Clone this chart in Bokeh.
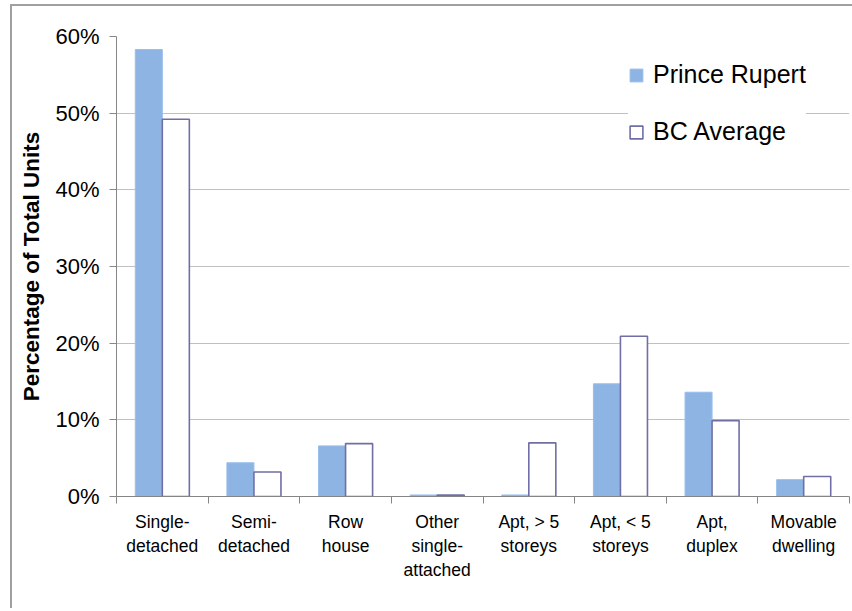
from bokeh.plotting import figure
from bokeh.layouts import column
from bokeh.models import (ColumnDataSource, Range1d, LinearAxis, FixedTicker,
                          NumeralTickFormatter, Legend, LegendItem)
from bokeh.transform import dodge
from bokeh.embed import file_html
from bokeh.resources import INLINE

# Dwelling types (multi-line labels)
categories = ["Single-\ndetached", "Semi-\ndetached", "Row\nhouse",
              "Other\nsingle-\nattached", "Apt, > 5\nstoreys", "Apt, < 5\nstoreys",
              "Apt,\nduplex", "Movable\ndwelling"]
# Share of total private dwellings
prince_rupert = [0.583, 0.044, 0.066, 0.002, 0.002, 0.147, 0.136, 0.022]
bc_average = [0.492, 0.032, 0.069, 0.002, 0.070, 0.209, 0.099, 0.026]
y_ticks = [0.0, 0.1, 0.2, 0.3, 0.4, 0.5, 0.6]

FONT = "Liberation Sans"
AXIS_GREY = "#868686"
FRAME_GREY = "#A0A0A0"

n = len(categories)
centers = [i + 0.5 for i in range(n)]
src = ColumnDataSource(dict(x=centers, pr=prince_rupert, bc=bc_average))

p = figure(width=840, height=602, output_backend="svg", toolbar_location=None,
           x_range=Range1d(0, n), y_range=Range1d(0, 0.6),
           x_axis_location="below", y_axis_location="left",
           min_border_left=104, min_border_right=3, min_border_top=30,
           min_border_bottom=112)
p.outline_line_color = None
p.background_fill_color = "white"
p.border_fill_color = "white"

bar_w = 0.295
r_pr = p.vbar(x=dodge("x", -bar_w / 2), top="pr", width=bar_w,
              source=src, fill_color="#8EB4E3", line_color="#97BEEC", line_width=1)
r_bc = p.vbar(x=dodge("x", bar_w / 2), top="bc", width=bar_w,
              source=src, fill_color="white", line_color="#6F6FA6", line_width=1.6)

# y axis
ya = p.yaxis[0]
ya.ticker = FixedTicker(ticks=y_ticks)
ya.formatter = NumeralTickFormatter(format="0%")
ya.axis_line_color = AXIS_GREY
ya.major_tick_line_color = AXIS_GREY
ya.major_tick_out = 7
ya.major_tick_in = 0
ya.minor_tick_line_color = None
ya.major_label_text_font = FONT
ya.major_label_text_font_size = "22px"
ya.major_label_text_color = "black"
ya.major_label_standoff = 10
ya.axis_label = "Percentage of Total Units"
ya.axis_label_text_font = FONT
ya.axis_label_text_font_style = "bold"
ya.axis_label_text_font_size = "22.5px"
ya.axis_label_text_color = "black"
ya.axis_label_standoff = 8

p.ygrid.ticker = FixedTicker(ticks=y_ticks)
p.ygrid.grid_line_color = "#C0C0C0"
p.xgrid.grid_line_color = None

# x axis: tick marks on category boundaries, no labels
xa = p.xaxis[0]
xa.ticker = FixedTicker(ticks=list(range(n + 1)))
xa.axis_line_color = AXIS_GREY
xa.major_tick_line_color = AXIS_GREY
xa.major_tick_out = 7
xa.major_tick_in = 0
xa.minor_tick_line_color = None
xa.major_label_text_font_size = "1px"
xa.major_label_text_alpha = 0
xa.major_label_standoff = 0

# second x axis carrying the category names at bar-group centres
cat_axis = LinearAxis(ticker=FixedTicker(ticks=centers),
                      major_label_overrides={c: lab for c, lab in zip(centers, categories)})
cat_axis.axis_line_color = None
cat_axis.major_tick_line_color = None
cat_axis.minor_tick_line_color = None
cat_axis.major_tick_out = 0
cat_axis.major_tick_in = 0
cat_axis.major_label_text_font = FONT
cat_axis.major_label_text_font_size = "17.5px"
cat_axis.major_label_text_color = "black"
cat_axis.major_label_standoff = 8
p.add_layout(cat_axis, "below")

legend = Legend(items=[LegendItem(label="Prince Rupert", renderers=[r_pr]),
                       LegendItem(label="BC Average", renderers=[r_bc])],
                location=(512, 350), orientation="vertical")
legend.label_text_font = FONT
legend.label_text_font_size = "25px"
legend.label_text_color = "black"
legend.glyph_width = 16
legend.glyph_height = 16
legend.label_standoff = 9
legend.spacing = 28
legend.padding = 6
legend.margin = 0
legend.border_line_color = None
legend.background_fill_color = "white"
legend.background_fill_alpha = 1
p.add_layout(legend, "center")

# grey chart frame (left and top edges) around the figure
root = column(p, margin=(4, 0, 0, 10),
              styles={"border-left": f"2px solid {FRAME_GREY}",
                      "border-top": f"2px solid {FRAME_GREY}"})

open("out.html", "w").write(file_html(root, INLINE))
